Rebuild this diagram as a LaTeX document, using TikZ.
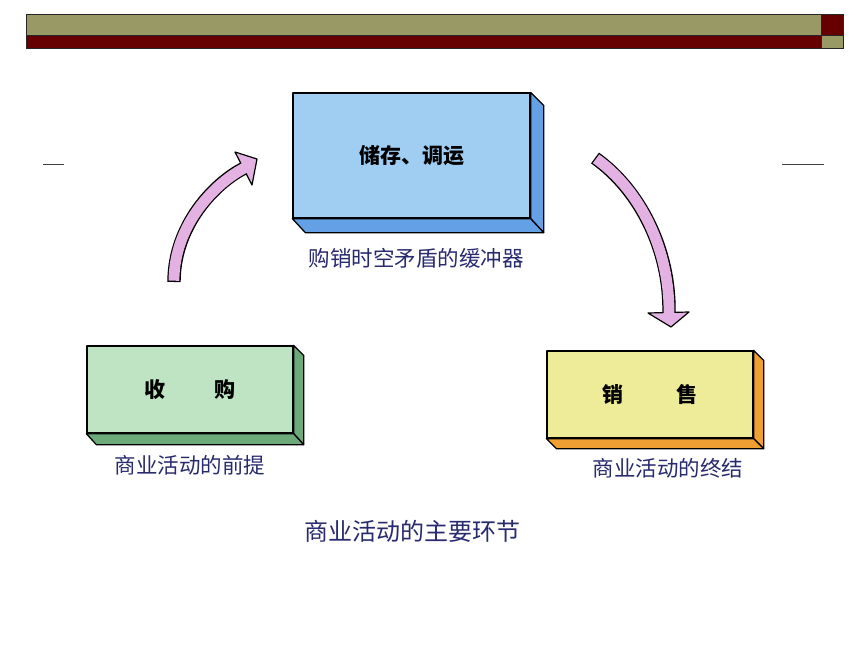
\documentclass[tikz,border=0pt]{standalone}
\usepackage{fontspec}
\setmainfont{Noto Sans CJK SC}
\usetikzlibrary{calc}
\definecolor{olivebar}{RGB}{153,153,102}
\definecolor{redbar}{RGB}{102,0,0}
\definecolor{bluefront}{RGB}{160,206,242}
\definecolor{blueside}{RGB}{100,160,230}
\definecolor{greenfront}{RGB}{190,228,196}
\definecolor{greenside}{RGB}{108,170,122}
\definecolor{yellowfront}{RGB}{238,236,152}
\definecolor{yellowside}{RGB}{240,160,50}
\definecolor{capcol}{RGB}{40,42,110}
\definecolor{pinkarrow}{RGB}{228,178,226}
\tikzset{
  barrect/.style={draw=black!85, line width=0.8pt},
  face/.style={draw=black, line width=1.3pt, line join=round},
  frontbox/.style={face, inner sep=0pt, font=\fontsize{21}{25}\selectfont\bfseries, text=black},
  caption/.style={inner sep=0pt, text=capcol, font=\fontsize{21.5}{26}\selectfont},
  titletext/.style={inner sep=0pt, text=capcol, font=\fontsize{24}{28}\selectfont},
  shaftout/.style={draw=black, line width=13.4pt, line cap=butt},
  shaftin/.style={draw=pinkarrow, line width=10.8pt, line cap=butt, shorten <=1.3pt, shorten >=-1.5pt},
  headshape/.style={fill=pinkarrow, draw=black, line width=1.2pt, line join=round},
  rule/.style={draw=black!75, line width=1.5pt}
}
\begin{document}
\begin{tikzpicture}[x=1pt,y=-1pt]
\useasboundingbox (0,0) rectangle (860,645);
\fill[white] (0,0) rectangle (860,645);
% top bar
\draw[barrect, fill=olivebar] (26,14) rectangle (821,35);
\draw[barrect, fill=redbar] (26,35) rectangle (821,48);
\draw[barrect, fill=redbar] (821,14) rectangle (843,35);
\draw[barrect, fill=olivebar] (821,35) rectangle (843,48);
% short rules
\coordinate (l1) at (43,164.5);
\coordinate (l2) at (64,164.5);
\coordinate (r1) at (782,164.5);
\coordinate (r2) at (824,164.5);
\draw[rule] (l1) -- (l2);
\draw[rule] (r1) -- (r2);

% blue box
\node[frontbox, fill=bluefront, minimum width=237pt, minimum height=125pt] (store) at (411.5,155.5) {储存、调运};
\draw[face, fill=blueside] (store.north east) -- ++(13,13) -- ($(store.south east)+(13,14)$) -- (store.south east) -- cycle;
\draw[face, fill=blueside] (store.south west) -- ++(13,14) -- ($(store.south east)+(13,14)$) -- (store.south east) -- cycle;
\node[caption] (storecap) at (416,258) {购销时空矛盾的缓冲器};

% green box
\node[frontbox, fill=greenfront, minimum width=206pt, minimum height=87pt] (buy) at (190,389.5) {收\hspace{49pt}购};
\draw[face, fill=greenside] (buy.north east) -- ++(10,10) -- ($(buy.south east)+(10,11)$) -- (buy.south east) -- cycle;
\draw[face, fill=greenside] (buy.south west) -- ++(10,11) -- ($(buy.south east)+(10,11)$) -- (buy.south east) -- cycle;
\node[caption] (buycap) at (190,465) {商业活动的前提};

% yellow box
\node[frontbox, fill=yellowfront, minimum width=206pt, minimum height=87pt] (sell) at (650,394.5) {销\hspace{53pt}售};
\draw[face, fill=yellowside] (sell.north east) -- ++(10,10) -- ($(sell.south east)+(10,10)$) -- (sell.south east) -- cycle;
\draw[face, fill=yellowside] (sell.south west) -- ++(10,10) -- ($(sell.south east)+(10,10)$) -- (sell.south east) -- cycle;
\node[caption] (sellcap) at (668,468) {商业活动的终结};

% title
\node[titletext] (title) at (412,531) {商业活动的主要环节};

% left arrow
\coordinate (la0) at (174,282);
\coordinate (la1) at (243.5,168.5);
\coordinate (laA) at (235,152);
\coordinate (laT) at (257,159);
\coordinate (laB) at (252,185);
\draw[shaftout] (la0) .. controls (174,225) and (215,183) .. (la1);
\draw[headshape] (laA) -- (laT) -- (laB) -- cycle;
\draw[shaftin] (la0) .. controls (174,225) and (215,183) .. (la1);

% right arrow
\coordinate (ra0) at (595,158);
\coordinate (ra1) at (669,312.5);
\coordinate (raA) at (648,313);
\coordinate (raT) at (671,327);
\coordinate (raB) at (689,312);
\draw[shaftout] (ra0) .. controls (640,190) and (670,250) .. (ra1);
\draw[headshape] (raA) -- (raT) -- (raB) -- cycle;
\draw[shaftin] (ra0) .. controls (640,190) and (670,250) .. (ra1);
\end{tikzpicture}
\end{document}
